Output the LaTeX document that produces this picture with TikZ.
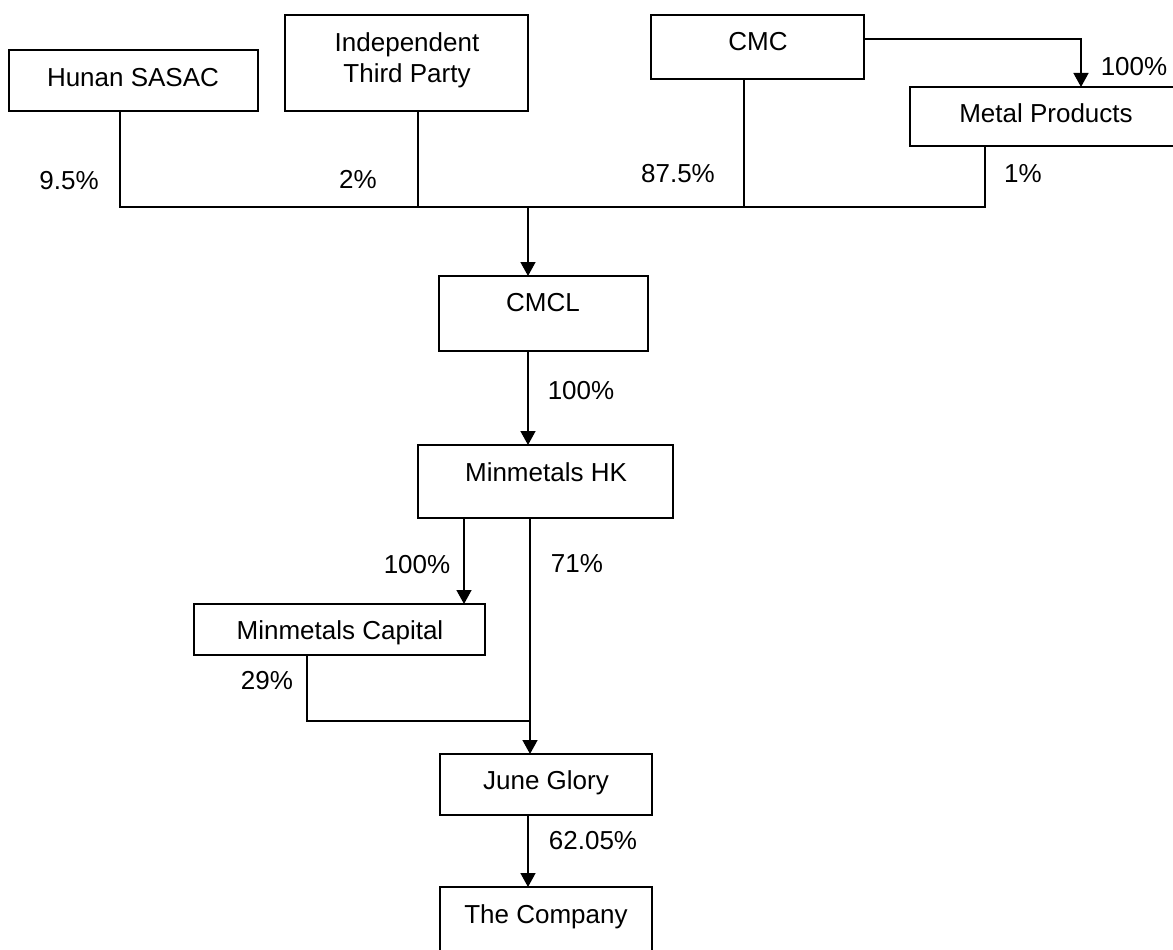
\documentclass[tikz,border=0pt]{standalone}
\usepackage{fontspec}
\setmainfont{Liberation Sans}
\usetikzlibrary{arrows.meta}
\begin{document}
\begin{tikzpicture}[x=1pt,y=-1pt,
  box/.style={draw=black,line width=1.5pt,inner sep=0pt,outer sep=0pt,fill=none},
  txt/.style={inner sep=0pt,outer sep=0pt,anchor=base,font=\fontsize{26}{30}\selectfont},
  conn/.style={draw=black,line width=1.5pt},
  arr/.style={conn,-{Triangle[width=15pt,length=14pt]}}]
\useasboundingbox (0,0) rectangle (1173,950);
% boxes
\node[box,minimum width=249pt,minimum height=61pt] (hunan) at (133.5,80.5) {};
\node[box,minimum width=243pt,minimum height=96pt] (indep) at (406.5,63) {};
\node[box,minimum width=213pt,minimum height=64pt] (cmc) at (757.5,47) {};
\node[box,minimum width=272pt,minimum height=59pt] (metal) at (1046,116.5) {};
\node[box,minimum width=209pt,minimum height=75pt] (cmcl) at (543.5,313.5) {};
\node[box,minimum width=255pt,minimum height=73pt] (hk) at (545.5,481.5) {};
\node[box,minimum width=291pt,minimum height=51pt] (capital) at (339.5,629.5) {};
\node[box,minimum width=212pt,minimum height=61pt] (june) at (546,784.5) {};
\node[box,minimum width=212pt,minimum height=80pt] (company) at (546,927) {};
% box texts
\node[txt] (hunanT) at (133,86) {Hunan SASAC};
\node[txt] (indepT1) at (407,52) {Independent};
\node[txt] (indepT2) at (407,82) {Third Party};
\node[txt] (cmcT) at (758,51) {CMC};
\node[txt] (metalT) at (1046,122) {Metal Products};
\node[txt] (cmclT) at (543,311) {CMCL};
\node[txt] (hkT) at (546,481) {Minmetals HK};
\node[txt] (capitalT) at (340,639) {Minmetals Capital};
\node[txt] (juneT) at (546,789) {June Glory};
\node[txt] (companyT) at (546,923) {The Company};
% junction coordinates
\coordinate (jh) at (120,207);
\coordinate (ji) at (418,207);
\coordinate (jc) at (744,207);
\coordinate (jm) at (985,207);
\coordinate (jt) at (528,207);
\coordinate (jcorner) at (1081,39);
\coordinate (jcap) at (307,721);
\coordinate (jmain) at (530,721);
% connectors
\draw[conn] (hunan.south -| jh) -- (jh) -- (jm) -- (metal.south -| jm);
\draw[conn] (indep.south -| ji) -- (ji);
\draw[conn] (cmc.south -| jc) -- (jc);
\draw[arr] (jt) -- (cmcl.north -| jt);
\draw[arr] (cmc.east |- jcorner) -- (jcorner) -- (metal.north -| jcorner);
\draw[arr] (cmcl.south -| jt) -- (hk.north -| jt);
\draw[arr] (hk.south -| 464,0) -- (capital.north -| 464,0);
\draw[arr] (hk.south -| jmain) -- (june.north -| jmain);
\draw[conn] (capital.south -| jcap) -- (jcap) -- (jmain);
\draw[arr] (june.south -| jt) -- (company.north -| jt);
% percentage labels
\node[txt] (l1) at (69,189) {9.5\%};
\node[txt] (l2) at (358,188) {2\%};
\node[txt] (l3) at (678,182) {87.5\%};
\node[txt] (l4) at (1023,182) {1\%};
\node[txt] (l5) at (1134,75) {100\%};
\node[txt] (l6) at (581,399) {100\%};
\node[txt] (l7) at (417,573) {100\%};
\node[txt] (l8) at (577,572) {71\%};
\node[txt] (l9) at (267,689) {29\%};
\node[txt] (l10) at (593,849) {62.05\%};
\end{tikzpicture}
\end{document}
